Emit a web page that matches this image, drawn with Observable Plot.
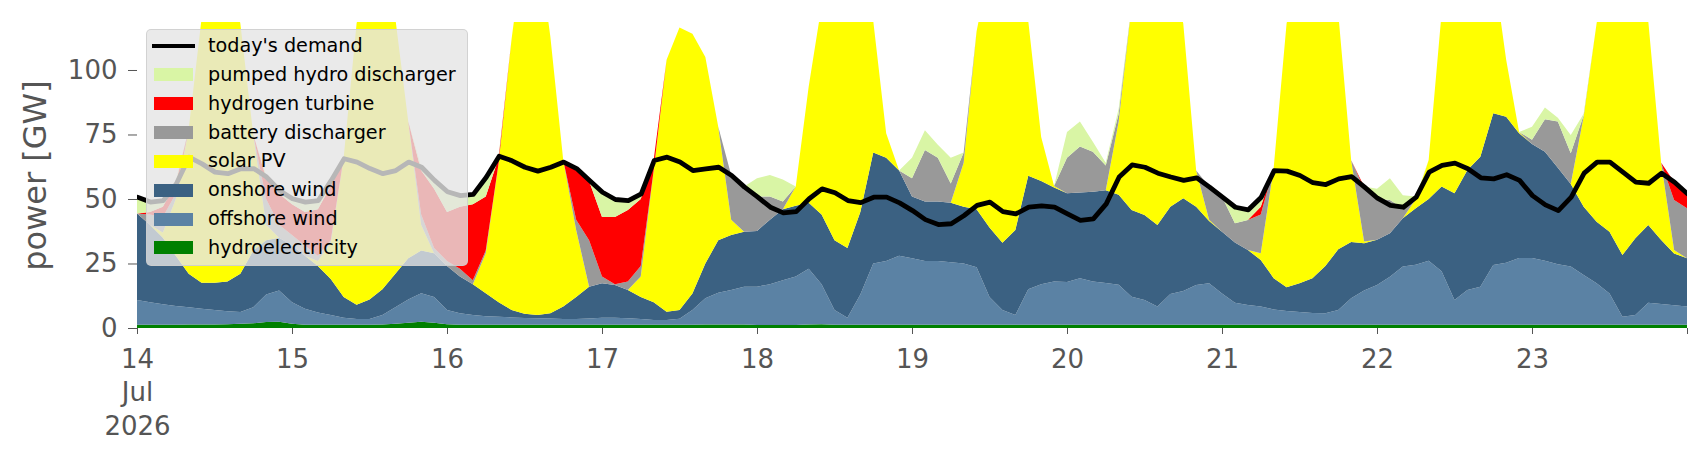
<!DOCTYPE html>
<html><head><meta charset="utf-8">
<script src="https://cdn.jsdelivr.net/npm/d3@7"></script>
<script src="https://cdn.jsdelivr.net/npm/@observablehq/plot@0.6"></script>
<style>
body{margin:0;background:#fff;font-family:"DejaVu Sans",sans-serif;}
#wrap{position:relative;width:1706px;height:460px;}
#legend{position:absolute;left:146px;top:29px;width:322px;height:237px;box-sizing:border-box;background:rgba(229,229,229,0.8);border:1.5px solid rgba(204,204,204,0.8);border-radius:5px;}
.sw{position:absolute;}
.lab{position:absolute;left:61px;font-size:19.2px;color:#000;line-height:22px;white-space:nowrap;}
</style></head><body><div id="wrap"><div id="legend"></div></div>
<script>
// 2-hourly values, 14 Jul 2026 00:00 to 24 Jul 2026 00:00 (GW)
const hydro = [1.3,1.3,1.3,1.3,1.4,1.4,1.4,1.5,1.6,1.8,2.3,2.4,
1.6,1.3,1.3,1.3,1.3,1.3,1.3,1.4,1.6,2.0,2.4,2.0,
1.5,1.3,1.3,1.3,1.3,1.3,1.3,1.3,1.3,1.3,1.3,1.3,
1.3,1.3,1.3,1.3,1.3,1.3,1.3,1.3,1.4,1.4,1.4,1.4,
1.2,1.2,1.2,1.2,1.4,1.5,1.3,1.3,1.3,1.3,1.3,1.3,
1.3,1.3,1.3,1.3,1.3,1.3,1.3,1.3,1.3,1.3,1.3,1.3,
1.3,1.3,1.3,1.3,1.3,1.3,1.3,1.3,1.3,1.3,1.3,1.3,
1.3,1.3,1.3,1.3,1.3,1.3,1.3,1.3,1.3,1.3,1.3,1.3,
1.3,1.3,1.3,1.3,1.3,1.3,1.3,1.3,1.3,1.3,1.3,1.3,
1.3,1.3,1.3,1.3,1.3,1.3,1.3,1.3,1.3,1.3,1.3,1.3,1.3];
const offshore = [9.6,8.7,7.9,7.2,6.6,6.1,5.6,5.0,4.6,6.2,10.7,12.1,
8.4,6.2,4.7,3.7,2.7,2.2,2.2,3.6,6.4,9.0,11.1,10.0,
5.5,4.4,3.7,3.3,3.1,2.8,2.6,2.5,2.4,2.2,2.2,2.4,
2.7,2.7,2.5,2.2,1.8,1.8,2.3,5.7,10.1,12.3,13.3,14.6,
14.8,15.8,17.3,18.8,21.6,15.5,5.7,2.7,11.7,23.7,24.7,26.7,
25.7,24.7,24.7,24.2,23.7,22.2,10.7,5.7,3.7,13.7,15.7,16.7,
16.5,18.0,16.7,16.1,15.5,10.8,9.6,7.0,11.9,13.0,15.4,16.0,
12.1,8.5,7.6,7.0,5.9,5.3,4.9,4.5,4.4,5.7,10.2,13.2,
15.4,18.6,22.5,23.2,24.8,20.7,9.6,13.4,14.7,23.1,24.0,25.8,
25.8,24.8,23.4,22.5,19.2,16.0,12.1,3.1,3.7,8.5,8.0,7.5,7.0];
const onshore = [33.5,30,25.8,19.5,13,10,10.5,11.5,14.8,22,21,20.5,
22,20.5,18,14,8,5.5,7.5,10,13,16,16.5,17,
17,14.3,12,8.9,5.6,2.9,1.6,1.2,2,4.8,8.5,12.3,
13.3,12.7,10.9,8.5,6.9,3.2,3.4,6.4,13.5,20.3,21.3,21.3,
21.6,25,27.5,27.4,25.5,27,27,27,32,43,40,33,
24,23,23,23,22,22.5,27,26,33,44,40,36.5,
34.4,33.2,34.8,36,34.8,33.6,32.9,31.6,33.8,36,30.3,24.2,
23.9,23.3,21.3,18.1,12.1,9.2,11.1,13.5,18.3,23.5,21.8,18.3,
17.5,16.8,18.7,21.9,23.9,32.8,41.3,46.5,50.4,58.8,56.6,48.4,
44.2,42.2,37.4,32,26.5,23.9,23.9,23.9,29.8,30.1,24.8,20.1,18.7];
const solar = [0,0,2,22,56,102.5,127.5,127,97,45,6,0,
0,0,2,14,54,109,129,130,99,53,10,0,
0,0,0,15.5,54,105,144.5,145,107.3,56.7,26,0,
0,0,0,8,51,97.7,109.5,100.6,80,44,6,0,
0,0,0,7.4,45,81,116,119,95,51,9.5,0,
0,0,0,0,17,69,101,117,102,60,17,0.5,
0,0,0,0,28.4,79.3,106.2,110.1,93,67.7,14,0.5,
0,0,0,2.6,42.7,102.2,122.7,130.7,121,91.5,31.7,0.7,
0,0,0,3.6,15.1,67.2,97.8,93.8,83.6,56.8,22.1,0.5,
0,0,0,0,35,76.8,107.7,121.7,105.2,79.1,29.9,1.3,0];
const battery = [0,4,6,2,0,0,0,0,0,0,10,5,
4,4,2,1,0,0,0,0,0,0,4,2,
2,3,1.5,1,0,0,0,0,0,0,4,18,
2.7,0.3,3.3,4,0,0,0,0,0,0,17.3,17.5,
13.4,9,3,0,0,0,0,0,0,0,0,0,
7,20,17,7.5,4,0,0,0,0,0,0,0,
13.8,17.8,15.5,9.6,3,0,0,0,0,0,0,12.8,
13.6,7.5,11.7,15,0,0,0,0,0,0,0,20.5,
15.8,12.9,3.9,0,0,0,0,0,0,0,0,0,
1.7,12.6,17.9,11.9,0.5,0,0,0,0,0,0,19.4,19.4];
const hydrogen = [0,1,4,4,0,0,0,0,0,0,8,12,
12,13,18,21,0,0,0,0,0,0,17,23,
19,24,29.5,21,2,0,0,0,0,0,19,23,
23,26,27.7,26,4.1,0,0,0,0,0,0,0,
0,0,0,0,0,0,0,0,0,0,0,0,
0,0,0,0,0,0,0,0,0,0,0,0,
0,0,0,0,0,0,0,0,0,0,0,0,
0,0,0,3,0,0,0,0,0,0,0,0.8,
0,0,0,0,0,0,0,0,0,0,0,0,
0,0,0,0,0,0,0,0,0,0,0,7.1,5.8];
const pumped = [6.6,4,2.6,1,0,0,0,0,0,0,1,2,
2.5,4,3.6,2.4,0,0,0,0,0,0,1.5,3.5,
8,4.5,4,7.6,0.8,0,0,0,0,0,1,0.5,
9.8,7,3.9,2.2,0,0,0,0,0,0,0,0,
7,8.3,8.6,0,0,0,0,0,0,0,0,0,
8,7.6,5,10,0,0,0,0,0,0,0,0,
10,9.7,3.9,1,2,0,0,0,0,0,0,0,
0,6.4,4.1,4,0,0,0,0,0,0,0,0,
4,8.4,5.1,1,0,0,0,0,0,0,0,0,
5,4.6,1.5,7.1,0.5,0,0,0,0,0,0,0,0];
const demand = [50.9,49,49.6,56,66.4,63.8,60.6,60,61.9,62,58.7,53.5,
50.3,49,49.6,57.4,65.8,64.5,62,60,61.2,64.5,62.5,57.4,
53,51.5,52,58.6,66.8,65,62.5,61,62.5,64.5,62,57.4,
52.8,50,49.6,52.2,65.1,66.4,64.5,61.2,61.9,62.5,59.3,54.8,
51,47,44.8,45.3,50.3,54.1,52.6,49.6,48.8,50.9,50.9,48.7,
45.7,42.2,40.3,40.6,43.8,47.7,49,45.3,44.4,47,47.5,47,
44.4,41.9,42.5,48.3,58.7,63.4,62.5,60.2,58.7,57.4,58.4,54.8,
50.9,47,46,50.9,61.2,61,59.3,56.5,55.8,58,58.9,54.8,
50.5,47.7,47,50.9,60.6,63.2,64.1,61.9,58.4,58,59.6,57.4,
51.5,47.9,45.7,50.9,60.2,64.5,64.5,60.6,56.7,56.3,60.2,56.7,52.2];

const seriesNames = ["hydroelectricity","offshore wind","onshore wind","solar PV","battery discharger","hydrogen turbine","pumped hydro discharger"];
const seriesColors = ["#008000","#5b82a4","#3b6182","#ffff00","#999999","#ff0000","#d9f5a5"];
const legendNames = ["pumped hydro discharger","hydrogen turbine","battery discharger","solar PV","onshore wind","offshore wind","hydroelectricity"];
const dayLabels = ["14\nJul\n2026","15","16","17","18","19","20","21","22","23",""];
const yTicks = [0,25,50,75,100];

const start = Date.UTC(2026,6,14);
const time = demand.map((_, i) => new Date(start + i*2*3600e3));
const dayTicks = dayLabels.map((_, i) => new Date(start + i*86400e3));
const seriesValues = [hydro, offshore, onshore, solar, battery, hydrogen, pumped];
const rows = seriesNames.flatMap((s, k) => time.map((t, i) => ({t, s, v: seriesValues[k][i]})));
const demandRows = time.map((t, i) => ({t, v: demand[i]}));

const chart = Plot.plot({
  width: 1706, height: 460,
  marginLeft: 137, marginRight: 19, marginTop: 22, marginBottom: 132,
  style: {fontFamily: "DejaVu Sans", fontSize: "26px", background: "white", overflow: "visible"},
  x: {type: "utc", domain: [dayTicks[0], dayTicks[10]]},
  y: {domain: [0, 118.6]},
  color: {domain: seriesNames, range: seriesColors},
  marks: [
    Plot.areaY(rows, {x: "t", y: "v", z: "s", fill: "s", order: seriesNames, curve: "linear", clip: true}),
    Plot.lineY(demandRows, {x: "t", y: "v", stroke: "black", strokeWidth: 4.8, clip: true}),
    Plot.axisY({ticks: yTicks, tickSize: 9, tickPadding: 11, fontSize: 26, stroke: "#555", fill: "#555", label: null}),
    Plot.axisX({ticks: dayTicks, tickFormat: (d, i) => dayLabels[i], tickSize: 6, tickPadding: 9, fontSize: 26, lineHeight: 1.3, stroke: "#555", fill: "#555", label: null}),
    Plot.text(["power [GW]"], {frameAnchor: "left", textAnchor: "middle", dx: -102, rotate: -90, fontSize: 32, fill: "#555"})
  ]
});
const wrap = document.getElementById("wrap");
wrap.insertBefore(chart, wrap.firstChild);

const legend = document.getElementById("legend");
const rowY0 = 16, rowStep = 28.85;
{
  const ln = document.createElement("div");
  ln.className = "sw";
  ln.style.cssText = `left:5px;top:${rowY0-2.4}px;width:43px;height:4.8px;background:#000;`;
  legend.appendChild(ln);
  const tx = document.createElement("div");
  tx.className = "lab"; tx.style.top = `${rowY0-11}px`; tx.textContent = "today's demand";
  legend.appendChild(tx);
}
legendNames.forEach((name, j) => {
  const cy = rowY0 + (j+1)*rowStep;
  const sw = document.createElement("div");
  sw.className = "sw";
  sw.style.cssText = `left:7px;top:${cy-6.5}px;width:39px;height:13px;background:${seriesColors[seriesNames.indexOf(name)]};`;
  legend.appendChild(sw);
  const tx = document.createElement("div");
  tx.className = "lab"; tx.style.top = `${cy-11}px`; tx.textContent = name;
  legend.appendChild(tx);
});
</script>
</body></html>
